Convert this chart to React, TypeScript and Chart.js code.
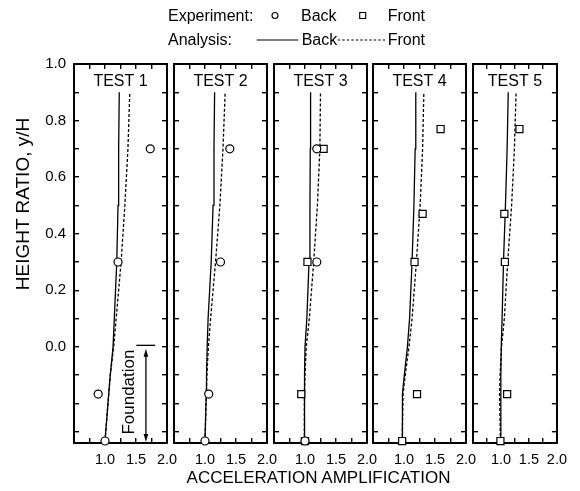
import React, { useEffect, useRef } from 'react';
import { Chart, registerables } from 'chart.js';

Chart.register(...registerables);

const FONT = '"Liberation Sans", Arial, Helvetica, sans-serif';

// ---- data -------------------------------------------------------------

const testNames = ['TEST 1', 'TEST 2', 'TEST 3', 'TEST 4', 'TEST 5'];

// Height ratios y/H at which the analytical profiles are evaluated
const analysisHeights = [-0.333, -0.167, -0.1, 0.0, 0.1, 0.3, 0.5, 0.7, 0.9];

// Analysis: acceleration amplification along the back and front faces
const test1AnalysisBack = [1.0, 1.06, 1.085, 1.13, 1.15, 1.19, 1.21, 1.22, 1.23];
const test1AnalysisFront = [1.0, 1.06, 1.085, 1.14, 1.18, 1.26, 1.32, 1.37, 1.4];
const test2AnalysisBack = [1.0, 1.02, 1.025, 1.035, 1.05, 1.1, 1.13, 1.145, 1.155];
const test2AnalysisFront = [1.0, 1.02, 1.03, 1.055, 1.09, 1.17, 1.24, 1.29, 1.325];
const test3AnalysisBack = [0.99, 0.99, 0.995, 1.0, 1.03, 1.065, 1.08, 1.085, 1.09];
const test3AnalysisFront = [0.99, 0.99, 1.0, 1.02, 1.07, 1.14, 1.2, 1.24, 1.25];
const test4AnalysisBack = [0.97, 0.975, 1.005, 1.055, 1.09, 1.13, 1.16, 1.18, 1.19];
const test4AnalysisFront = [0.97, 0.985, 1.02, 1.08, 1.13, 1.2, 1.26, 1.3, 1.32];
const test5AnalysisBack = [0.99, 0.995, 1.0, 1.005, 1.02, 1.045, 1.08, 1.11, 1.13];
const test5AnalysisFront = [0.99, 0.975, 0.985, 1.01, 1.06, 1.12, 1.19, 1.24, 1.27];

// Experiment: measured amplification (heights and values)
const test1BackHeights = [0.7, 0.3, -0.167, -0.333];
const test1BackValues = [1.73, 1.21, 0.89, 1.0];
const test2BackHeights = [0.7, 0.3, -0.167, -0.333];
const test2BackValues = [1.4, 1.25, 1.06, 1.0];
const test3BackHeights = [0.7, 0.3, -0.333];
const test3BackValues = [1.19, 1.19, 1.0];
const test3FrontHeights = [0.7, 0.3, -0.167, -0.333];
const test3FrontValues = [1.3, 1.04, 0.94, 1.0];
const test4FrontHeights = [0.77, 0.47, 0.3, -0.167, -0.333];
const test4FrontValues = [1.59, 1.3, 1.17, 1.21, 0.97];
const test5FrontHeights = [0.77, 0.47, 0.3, -0.167, -0.333];
const test5FrontValues = [1.33, 1.06, 1.07, 1.11, 0.99];

// Axes
const xTickValues = [0.75, 1.0, 1.25, 1.5, 1.75, 2.0];
const xTickLabels = ['', '1.0', '', '1.5', '', '2.0'];
const yTickValues = [-0.3, -0.2, -0.1, 0.0, 0.1, 0.2, 0.3, 0.4, 0.5, 0.6, 0.7, 0.8, 0.9, 1.0];
const yTickLabels = ['', '', '', '0.0', '', '0.2', '', '0.4', '', '0.6', '', '0.8', '', '1.0'];
const X_MIN = 0.5;
const X_MAX = 2.0;
const Y_MIN = -0.34;
const Y_MAX = 1.0;

// Foundation marker (drawn in the first panel), in data units
const foundationTop = 0.0;
const foundationBase = -0.333;

// ---- layout -----------------------------------------------------------

const W = 580;
const H = 491;
const PANEL_LEFTS = [74, 174, 274, 373, 473];
const PANEL_WIDTH = 93;
const PLOT_TOP = 64;
const PLOT_BOTTOM = 443;
const X_AXIS_HEIGHT = H - PLOT_BOTTOM;

type Pt = { x: number; y: number };
const pts = (values: number[], heights: number[]): Pt[] =>
  values.map((v, i) => ({ x: v, y: heights[i] }));

const panels = [
  {
    back: pts(test1BackValues, test1BackHeights),
    front: [] as Pt[],
    lineBack: pts(test1AnalysisBack, analysisHeights),
    lineFront: pts(test1AnalysisFront, analysisHeights),
  },
  {
    back: pts(test2BackValues, test2BackHeights),
    front: [] as Pt[],
    lineBack: pts(test2AnalysisBack, analysisHeights),
    lineFront: pts(test2AnalysisFront, analysisHeights),
  },
  {
    back: pts(test3BackValues, test3BackHeights),
    front: pts(test3FrontValues, test3FrontHeights),
    lineBack: pts(test3AnalysisBack, analysisHeights),
    lineFront: pts(test3AnalysisFront, analysisHeights),
  },
  {
    back: [] as Pt[],
    front: pts(test4FrontValues, test4FrontHeights),
    lineBack: pts(test4AnalysisBack, analysisHeights),
    lineFront: pts(test4AnalysisFront, analysisHeights),
  },
  {
    back: [] as Pt[],
    front: pts(test5FrontValues, test5FrontHeights),
    lineBack: pts(test5AnalysisBack, analysisHeights),
    lineFront: pts(test5AnalysisFront, analysisHeights),
  },
];

// ---- plugins ----------------------------------------------------------

const panelLabelPlugin = {
  id: 'panelLabel',
  afterDraw(chart: any, _args: any, opts: any) {
    if (!opts || !opts.text) return;
    const { ctx, chartArea } = chart;
    ctx.save();
    ctx.font = `16px ${FONT}`;
    ctx.fillStyle = '#000';
    ctx.textAlign = 'center';
    ctx.textBaseline = 'alphabetic';
    ctx.fillText(opts.text, (chartArea.left + chartArea.right) / 2, chartArea.top + 22);
    ctx.restore();
  },
};

const foundationPlugin = {
  id: 'foundation',
  afterDatasetsDraw(chart: any, _args: any, opts: any) {
    if (!opts || !opts.show) return;
    const { ctx } = chart;
    const xs = chart.scales.x;
    const ys = chart.scales.y;
    const yTop = ys.getPixelForValue(foundationTop);
    const yBot = ys.getPixelForValue(foundationBase);
    const ax = xs.getPixelForValue(1.66);
    ctx.save();
    ctx.strokeStyle = '#000';
    ctx.fillStyle = '#000';
    ctx.lineWidth = 1.3;
    // level mark at the top of the foundation
    ctx.beginPath();
    ctx.moveTo(xs.getPixelForValue(1.505), yTop - 1.5);
    ctx.lineTo(xs.getPixelForValue(1.81), yTop - 1.5);
    ctx.stroke();
    // double-headed arrow
    const t1 = yTop + 2;
    const t2 = yBot + 1;
    ctx.beginPath();
    ctx.moveTo(ax, t1 + 6);
    ctx.lineTo(ax, t2 - 6);
    ctx.stroke();
    ctx.beginPath();
    ctx.moveTo(ax, t1);
    ctx.lineTo(ax - 2.3, t1 + 8);
    ctx.lineTo(ax + 2.3, t1 + 8);
    ctx.closePath();
    ctx.fill();
    ctx.beginPath();
    ctx.moveTo(ax, t2);
    ctx.lineTo(ax - 2.3, t2 - 8);
    ctx.lineTo(ax + 2.3, t2 - 8);
    ctx.closePath();
    ctx.fill();
    // label
    ctx.translate(xs.getPixelForValue(1.385), ys.getPixelForValue(-0.16));
    ctx.rotate(-Math.PI / 2);
    ctx.font = `17px ${FONT}`;
    ctx.textAlign = 'center';
    ctx.textBaseline = 'middle';
    ctx.fillText('Foundation', 0, 0);
    ctx.restore();
  },
};

// ---- chart config -----------------------------------------------------

function axisCommon() {
  return {
    type: 'linear' as const,
    bounds: 'data' as const,
    grid: {
      display: true,
      drawOnChartArea: false,
      drawTicks: true,
      tickLength: -5,
      color: '#000',
      lineWidth: 1.4,
    },
    border: { display: true, color: '#000', width: 2 },
  };
}

function xAxis(position: 'bottom' | 'top', withLabels: boolean) {
  return {
    ...axisCommon(),
    position,
    min: X_MIN,
    max: X_MAX,
    afterBuildTicks: (s: any) => {
      s.ticks = xTickValues.map((v) => ({ value: v }));
    },
    afterFit: (s: any) => {
      s.height = position === 'bottom' ? X_AXIS_HEIGHT : 0;
    },
    ticks: {
      display: withLabels,
      autoSkip: false,
      maxRotation: 0,
      minRotation: 0,
      padding: 13,
      color: '#000',
      font: { family: FONT, size: 14.5 },
      callback: (_v: any, i: number) => xTickLabels[i] ?? '',
    },
  };
}

function yAxis(position: 'left' | 'right', withLabels: boolean, width: number) {
  return {
    ...axisCommon(),
    position,
    min: Y_MIN,
    max: Y_MAX,
    afterBuildTicks: (s: any) => {
      s.ticks = yTickValues.map((v) => ({ value: v }));
    },
    afterFit: (s: any) => {
      s.width = width;
    },
    ticks: {
      display: withLabels,
      autoSkip: false,
      padding: 13,
      color: '#000',
      font: { family: FONT, size: 15 },
      callback: (_v: any, i: number) => yTickLabels[i] ?? '',
    },
  };
}

function buildConfig(i: number): any {
  const p = panels[i];
  const left = PANEL_LEFTS[i];
  const right = left + PANEL_WIDTH;
  return {
    type: 'scatter',
    data: {
      datasets: [
        {
          label: 'Experiment Back',
          data: p.back,
          showLine: false,
          pointStyle: 'circle',
          pointRadius: 4,
          pointBorderWidth: 1.2,
          pointBorderColor: '#000',
          pointBackgroundColor: '#fff',
          clip: false,
        },
        {
          label: 'Experiment Front',
          data: p.front,
          showLine: false,
          pointStyle: 'rect',
          pointRadius: 5,
          pointBorderWidth: 1.2,
          pointBorderColor: '#000',
          pointBackgroundColor: '#fff',
          clip: false,
        },
        {
          label: 'Analysis Back',
          data: p.lineBack,
          showLine: true,
          borderColor: '#000',
          borderWidth: 1.3,
          pointRadius: 0,
          fill: false,
          tension: 0,
        },
        {
          label: 'Analysis Front',
          data: p.lineFront,
          showLine: true,
          borderColor: '#000',
          borderWidth: 1.3,
          borderDash: [3, 2],
          pointRadius: 0,
          fill: false,
          tension: 0,
        },
      ],
    },
    options: {
      animation: false,
      responsive: false,
      maintainAspectRatio: false,
      events: [],
      layout: {
        padding: {
          left: 0,
          right: W - right,
          top: PLOT_TOP,
          bottom: H - PLOT_BOTTOM - X_AXIS_HEIGHT,
        },
      },
      scales: {
        x: xAxis('bottom', true),
        xTop: xAxis('top', false),
        y: yAxis('left', i === 0, left),
        yRight: yAxis('right', false, 0),
      },
      plugins: {
        legend: { display: false },
        tooltip: { enabled: false },
        title: { display: false },
        panelLabel: { text: testNames[i] },
        foundation: { show: i === 0 },
      },
    },
    plugins: [panelLabelPlugin, foundationPlugin],
  };
}

// ---- component --------------------------------------------------------

export default function App() {
  const canvases = useRef<(HTMLCanvasElement | null)[]>([]);

  useEffect(() => {
    const charts = panels.map((_, i) => new Chart(canvases.current[i] as HTMLCanvasElement, buildConfig(i)));
    return () => charts.forEach((c) => c.destroy());
  }, []);

  const textStyle = { fontFamily: FONT, fontSize: 16, fill: '#000' } as const;

  return (
    <div
      style={{
        position: 'fixed',
        left: 0,
        top: 0,
        width: W,
        height: H,
        background: '#fff',
        overflow: 'hidden',
      }}
    >
      {panels.map((_, i) => (
        <canvas
          key={i}
          ref={(el) => {
            canvases.current[i] = el;
          }}
          width={W}
          height={H}
          style={{ position: 'absolute', left: 0, top: 0, width: W, height: H }}
        />
      ))}
      <svg
        width={W}
        height={H}
        style={{ position: 'absolute', left: 0, top: 0, pointerEvents: 'none' }}
      >
        {/* legend */}
        <text x={168} y={15.5} dominantBaseline="central" style={textStyle}>Experiment:</text>
        <circle cx={275} cy={15.5} r={3} fill="none" stroke="#000" strokeWidth={1.1} />
        <text x={301} y={15.5} dominantBaseline="central" style={textStyle}>Back</text>
        <rect x={359.7} y={12.5} width={6} height={6} fill="none" stroke="#000" strokeWidth={1.1} />
        <text x={387.7} y={15.5} dominantBaseline="central" style={textStyle}>Front</text>
        <text x={168} y={39.5} dominantBaseline="central" style={textStyle}>Analysis:</text>
        <line x1={256.7} y1={40} x2={298.3} y2={40} stroke="#000" strokeWidth={1.2} />
        <text x={301.7} y={39.5} dominantBaseline="central" style={textStyle}>Back</text>
        <line x1={337.7} y1={40} x2={385} y2={40} stroke="#000" strokeWidth={1.2} strokeDasharray="2.5 2" />
        <text x={387.7} y={39.5} dominantBaseline="central" style={textStyle}>Front</text>
        {/* axis titles */}
        <text
          x={22.5}
          y={204}
          textAnchor="middle"
          dominantBaseline="central"
          transform="rotate(-90 22.5 204)"
          style={{ fontFamily: FONT, fontSize: 19, fill: '#000' }}
        >
          HEIGHT RATIO, y/H
        </text>
        <text
          x={318.5}
          y={477.5}
          textAnchor="middle"
          dominantBaseline="central"
          style={{ fontFamily: FONT, fontSize: 17, fill: '#000' }}
        >
          ACCELERATION AMPLIFICATION
        </text>
      </svg>
    </div>
  );
}
